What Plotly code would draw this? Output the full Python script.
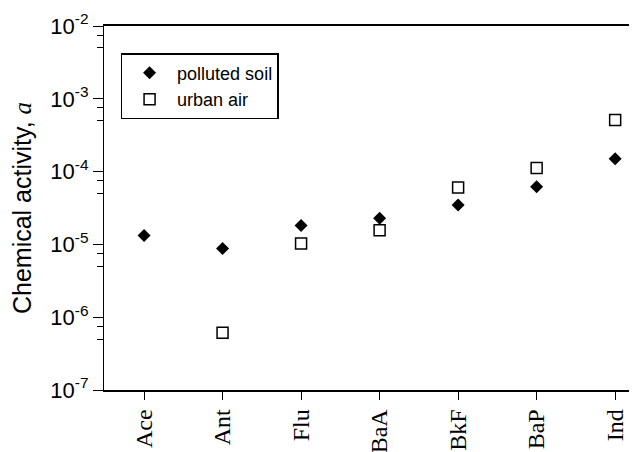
import plotly.graph_objects as go

categories = ["Ace", "Ant", "Flu", "BaA", "BkF", "BaP", "Ind"]
polluted_soil = [1.33e-5, 8.8e-6, 1.82e-5, 2.29e-5, 3.47e-5, 6.17e-5, 1.50e-4]
urban_air = [None, 6.1e-7, 1.03e-5, 1.57e-5, 6.04e-5, 1.12e-4, 5.12e-4]
y_major = [1e-7, 1e-6, 1e-5, 1e-4, 1e-3, 1e-2]
y_major_text = ["10<sup>-7</sup>", "10<sup>-6</sup>", "10<sup>-5</sup>",
                "10<sup>-4</sup>", "10<sup>-3</sup>", "10<sup>-2</sup>"]
y_minor = [m * f for m in y_major[:-1] for f in (5, 7.5)]

fig = go.Figure()
fig.add_trace(go.Scatter(
    x=categories, y=polluted_soil, mode="markers", name="polluted soil",
    marker=dict(symbol="diamond", size=10, color="black", line=dict(width=0)),
))
fig.add_trace(go.Scatter(
    x=categories, y=urban_air, mode="markers", name="urban air",
    marker=dict(symbol="square", size=11, color="white",
                line=dict(color="black", width=1.5)),
))

fig.update_layout(
    width=637, height=452,
    margin=dict(l=96, r=0, t=18, b=70),
    paper_bgcolor="white", plot_bgcolor="white",
    font=dict(family="Liberation Sans, Arial", size=18, color="black"),
    showlegend=True,
    legend=dict(
        x=0.031, y=0.925, xanchor="left", yanchor="top",
        bordercolor="black", borderwidth=1.3, bgcolor="white",
        font=dict(family="Liberation Sans, Arial", size=18, color="black"),
        tracegroupgap=0, itemsizing="trace", itemwidth=45,
    ),
)
fig.update_xaxes(
    type="category", range=[-0.51, 6.38], automargin=False,
    showline=True, linecolor="black", linewidth=1.5, mirror=True,
    ticks="outside", ticklen=8, tickwidth=1.3, tickcolor="black",
    tickangle=-90, ticklabeloverflow="allow",
    tickfont=dict(family="Liberation Serif, Times New Roman", size=24),
    showgrid=False, zeroline=False,
)
fig.update_yaxes(
    type="log", range=[-7, -2], automargin=False,
    showline=True, linecolor="black", linewidth=1.3, mirror=False,
    tickmode="array", tickvals=y_major, ticktext=y_major_text,
    ticks="outside", ticklen=10, tickwidth=1.3, tickcolor="black",
    ticklabeloverflow="allow",
    tickfont=dict(family="Liberation Sans, Arial", size=22),
    minor=dict(tickmode="array", tickvals=y_minor, ticks="outside",
               ticklen=6, tickwidth=1.3, tickcolor="black", showgrid=False),
    showgrid=False, zeroline=False,
    title=dict(text="Chemical activity, <span style='font-family:Liberation Serif'><i>a</i></span>",
               font=dict(family="Liberation Sans, Arial", size=25), standoff=12),
)

fig.write_html("out.html")
